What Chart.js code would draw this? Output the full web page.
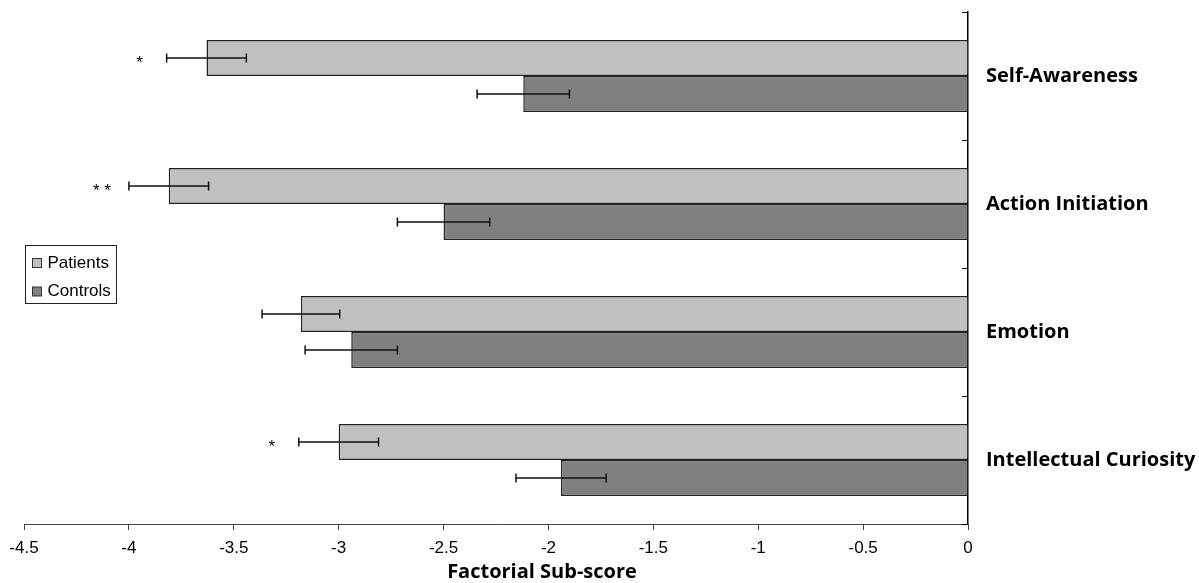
<!DOCTYPE html>
<html>
<head>
<meta charset="utf-8">
<script src="https://cdn.jsdelivr.net/npm/chart.js@4.4.1/dist/chart.umd.min.js"></script>
<style>
  html, body { margin: 0; padding: 0; background: #fff; }
  #wrap { width: 1199px; height: 583px; position: relative; }
</style>
</head>
<body>
<div id="wrap"><canvas id="chart"></canvas></div>
<script>
// values
const categories = ['Self-Awareness', 'Action Initiation', 'Emotion', 'Intellectual Curiosity'];
const patients = [-3.63, -3.81, -3.18, -3.00];
const patientsErr = [0.19, 0.19, 0.185, 0.19];
const controls = [-2.12, -2.50, -2.94, -1.94];
const controlsErr = [0.22, 0.22, 0.22, 0.215];
const stars = ['*', '* *', '', '*'];
const xTicks = [-4.5, -4, -3.5, -3, -2.5, -2, -1.5, -1, -0.5, 0];
const axisTitle = 'Factorial Sub-score';

const errs = [patientsErr, controlsErr];

const extras = {
  id: 'extras',
  afterDatasetsDraw(chart) {
    const ctx = chart.ctx;
    const x = chart.scales.x;
    const area = chart.chartArea;
    ctx.save();

    // error bars
    ctx.strokeStyle = '#111';
    ctx.lineWidth = 1.5;
    chart.data.datasets.forEach((ds, i) => {
      const meta = chart.getDatasetMeta(i);
      meta.data.forEach((bar, j) => {
        const v = ds.data[j];
        const e = errs[i][j];
        const lo = x.getPixelForValue(v - e);
        const hi = x.getPixelForValue(v + e);
        const cy = bar.y;
        ctx.beginPath();
        ctx.moveTo(lo, cy); ctx.lineTo(hi, cy);
        ctx.moveTo(lo, cy - 4.5); ctx.lineTo(lo, cy + 4.5);
        ctx.moveTo(hi, cy - 4.5); ctx.lineTo(hi, cy + 4.5);
        ctx.stroke();
      });
    });

    // significance stars
    ctx.fillStyle = '#000';
    ctx.font = '17px "Liberation Sans", Arial, sans-serif';
    ctx.textAlign = 'center';
    ctx.textBaseline = 'alphabetic';
    const pMeta = chart.getDatasetMeta(0);
    stars.forEach((s, j) => {
      if (!s) return;
      const px = x.getPixelForValue(patients[j] - patientsErr[j]) - 27;
      ctx.fillText(s, px, pMeta.data[j].y + 10);
    });

    // inward tick marks on the right axis, at category boundaries
    ctx.strokeStyle = '#000';
    ctx.lineWidth = 1;
    const n = categories.length;
    const step = (area.bottom - area.top) / n;
    for (let k = 0; k <= n; k++) {
      const ty = Math.round(area.top + k * step) + 0.5;
      ctx.beginPath();
      ctx.moveTo(area.right - 6, ty);
      ctx.lineTo(area.right, ty);
      ctx.stroke();
    }

    // axis title
    ctx.font = 'bold 20px "Open Sans", sans-serif';
    ctx.textAlign = 'center';
    ctx.fillText(axisTitle, (area.left + area.right) / 2 + 46, 578);

    // legend
    ctx.lineWidth = 1;
    ctx.strokeStyle = '#222';
    ctx.fillStyle = '#fff';
    ctx.fillRect(25.5, 245.5, 91, 58);
    ctx.strokeRect(25.5, 245.5, 91, 58);
    ctx.font = '17px "Liberation Sans", Arial, sans-serif';
    ctx.textAlign = 'left';
    chart.data.datasets.forEach((ds, i) => {
      const top = 258 + i * 28.5;
      ctx.fillStyle = ds.backgroundColor;
      ctx.fillRect(32.5, top + 0.5, 9, 9);
      ctx.strokeStyle = '#333';
      ctx.strokeRect(32.5, top + 0.5, 9, 9);
      ctx.fillStyle = '#000';
      ctx.fillText(ds.label, 47.5, top + 9.5);
    });

    ctx.restore();
  }
};

new Chart(document.getElementById('chart'), {
  type: 'bar',
  data: {
    labels: categories,
    datasets: [
      {
        label: 'Patients',
        data: patients,
        backgroundColor: '#c0c0c0',
        borderColor: '#222',
        borderWidth: 1.5,
        categoryPercentage: 0.5625,
        barPercentage: 1.0
      },
      {
        label: 'Controls',
        data: controls,
        backgroundColor: '#808080',
        borderColor: '#222',
        borderWidth: 1.5,
        categoryPercentage: 0.5625,
        barPercentage: 1.0
      }
    ]
  },
  options: {
    indexAxis: 'y',
    responsive: true,
    maintainAspectRatio: false,
    animation: false,
    layout: { padding: { left: 24, top: 12, right: 0, bottom: 0 } },
    plugins: {
      legend: { display: false },
      tooltip: { enabled: false }
    },
    scales: {
      x: {
        type: 'linear',
        min: -4.5,
        max: 0,
        afterBuildTicks: (scale) => { scale.ticks = xTicks.map(v => ({ value: v })); },
        afterFit: (scale) => { scale.height = 59; },
        grid: {
          display: true,
          drawOnChartArea: false,
          drawTicks: true,
          tickLength: 6,
          color: '#444',
          lineWidth: 1
        },
        border: { display: true, color: '#444', width: 1 },
        ticks: {
          color: '#000',
          padding: 8,
          maxRotation: 0,
          font: { family: '"Liberation Sans", Arial, sans-serif', size: 17 },
          callback: (v) => String(v)
        }
      },
      y: {
        type: 'category',
        position: 'right',
        offset: true,
        afterFit: (scale) => {
          scale.width = 231;
          scale.paddingTop = 0;
          scale.paddingBottom = 0;
        },
        grid: { display: false, drawTicks: false },
        border: { display: true, color: '#000', width: 1.5 },
        ticks: {
          color: '#000',
          padding: 18,
          font: { family: '"Open Sans", sans-serif', size: 20, weight: 'bold' }
        }
      }
    }
  },
  plugins: [extras]
});
</script>
</body>
</html>
